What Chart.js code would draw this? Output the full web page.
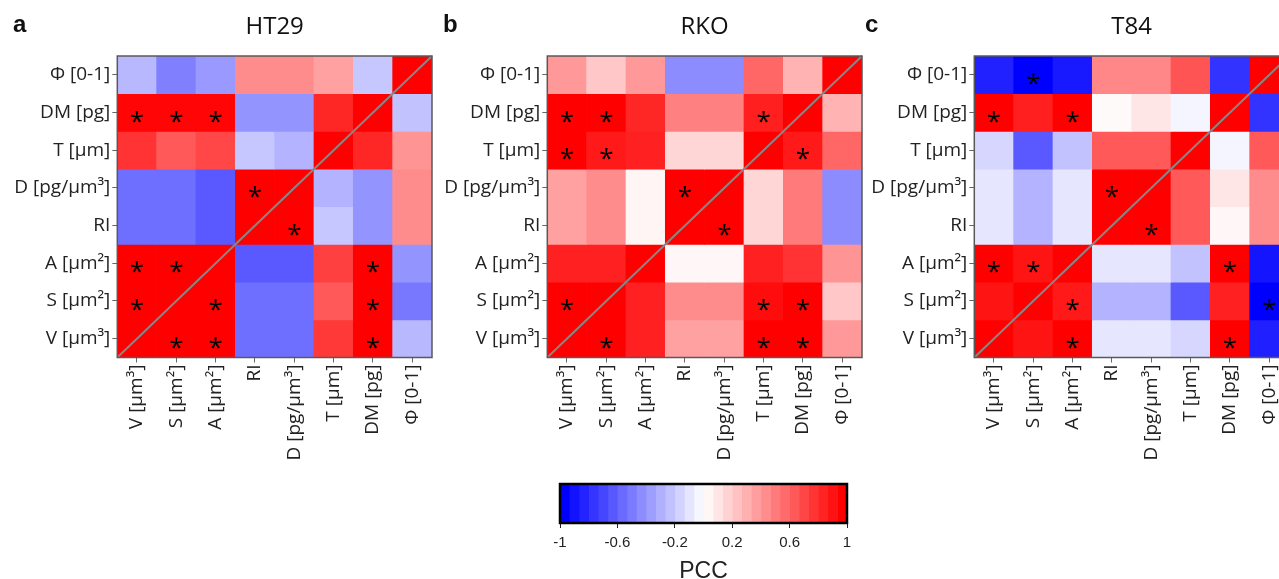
<!DOCTYPE html>
<html lang="en">
<head>
<meta charset="UTF-8">
<title>PCC correlation matrices: HT29, RKO, T84</title>
<script src="https://cdn.jsdelivr.net/npm/chart.js"></script>
<style>
  body { margin: 0; background: #fff; width: 1279px; height: 579px; overflow: hidden; position: relative; }
  canvas { position: absolute; }
</style>
</head>
<body>
<canvas id="chartA" width="440" height="480" style="left:0;top:0"></canvas>
<canvas id="chartB" width="440" height="480" style="left:430px;top:0"></canvas>
<canvas id="chartC" width="440" height="480" style="left:860px;top:0"></canvas>
<canvas id="colorbar" width="350" height="115" style="left:530px;top:470px"></canvas>

<script>
// columns left to right, rows top to bottom
const colLabels = ['V [µm³]', 'S [µm²]', 'A [µm²]', 'RI', 'D [pg/µm³]', 'T [µm]', 'DM [pg]', 'Φ [0-1]'];
const rowLabels = ['Φ [0-1]', 'DM [pg]', 'T [µm]', 'D [pg/µm³]', 'RI', 'A [µm²]', 'S [µm²]', 'V [µm³]'];

const ht29 = [
  [-0.28, -0.5, -0.4, 0.45, 0.45, 0.37, -0.22, 1],
  [0.98, 0.98, 0.98, -0.42, -0.42, 0.85, 1, -0.24],
  [0.8, 0.65, 0.72, -0.22, -0.3, 1, 0.85, 0.42],
  [-0.57, -0.57, -0.65, 1, 1, -0.3, -0.42, 0.45],
  [-0.57, -0.57, -0.65, 1, 1, -0.22, -0.42, 0.45],
  [1, 1, 1, -0.65, -0.65, 0.75, 1, -0.42],
  [1, 1, 1, -0.57, -0.57, 0.65, 1, -0.53],
  [1, 1, 1, -0.57, -0.57, 0.78, 1, -0.28]
];
const ht29Stars = [
  [0, 0, 0, 0, 0, 0, 0, 0],
  [1, 1, 1, 0, 0, 0, 0, 0],
  [0, 0, 0, 0, 0, 0, 0, 0],
  [0, 0, 0, 1, 0, 0, 0, 0],
  [0, 0, 0, 0, 1, 0, 0, 0],
  [1, 1, 0, 0, 0, 0, 1, 0],
  [1, 0, 1, 0, 0, 0, 1, 0],
  [0, 1, 1, 0, 0, 0, 1, 0]
];

const rko = [
  [0.4, 0.22, 0.4, -0.45, -0.45, 0.6, 0.3, 1],
  [1, 1, 0.85, 0.5, 0.5, 0.88, 1, 0.3],
  [1, 0.9, 0.87, 0.16, 0.16, 1, 0.9, 0.6],
  [0.37, 0.45, 0.04, 1, 1, 0.16, 0.52, -0.45],
  [0.37, 0.45, 0.04, 1, 1, 0.16, 0.52, -0.45],
  [0.87, 0.87, 1, 0.03, 0.03, 0.87, 0.8, 0.42],
  [1, 1, 0.87, 0.45, 0.45, 0.95, 1, 0.22],
  [1, 1, 0.87, 0.37, 0.37, 1, 1, 0.4]
];
const rkoStars = [
  [0, 0, 0, 0, 0, 0, 0, 0],
  [1, 1, 0, 0, 0, 1, 0, 0],
  [1, 1, 0, 0, 0, 0, 1, 0],
  [0, 0, 0, 1, 0, 0, 0, 0],
  [0, 0, 0, 0, 1, 0, 0, 0],
  [0, 0, 0, 0, 0, 0, 0, 0],
  [1, 0, 0, 0, 0, 1, 1, 0],
  [0, 1, 0, 0, 0, 1, 1, 0]
];

const t84 = [
  [-0.87, -1, -0.9, 0.47, 0.47, 0.67, -0.8, 1],
  [1, 0.88, 1, 0.02, 0.1, -0.04, 1, -0.8],
  [-0.16, -0.65, -0.24, 0.65, 0.65, 1, -0.04, 0.65],
  [-0.1, -0.3, -0.1, 1, 1, 0.65, 0.1, 0.45],
  [-0.1, -0.3, -0.1, 1, 1, 0.65, 0.03, 0.45],
  [1, 0.92, 1, -0.1, -0.1, -0.24, 1, -0.92],
  [0.92, 1, 0.9, -0.3, -0.3, -0.65, 0.87, -1],
  [1, 0.92, 1, -0.1, -0.1, -0.16, 1, -0.88]
];
const t84Stars = [
  [0, 1, 0, 0, 0, 0, 0, 0],
  [1, 0, 1, 0, 0, 0, 0, 0],
  [0, 0, 0, 0, 0, 0, 0, 0],
  [0, 0, 0, 1, 0, 0, 0, 0],
  [0, 0, 0, 0, 1, 0, 0, 0],
  [1, 1, 0, 0, 0, 0, 1, 0],
  [0, 0, 1, 0, 0, 0, 0, 1],
  [0, 0, 1, 0, 0, 0, 1, 0]
];

const cbTicks = [-1, -0.6, -0.2, 0.2, 0.6, 1];
const cbSteps = 30;

// blue-white-red
function bwr(v) {
  const t = Math.max(-1, Math.min(1, v));
  if (t >= 0) {
    const c = Math.round(255 * (1 - t));
    return `rgb(255,${c},${c})`;
  }
  const c = Math.round(255 * (1 + t));
  return `rgb(${c},${c},255)`;
}

const labelFont = '"Open Sans", sans-serif';

const panelDecor = {
  id: 'panelDecor',
  afterDatasetsDraw(chart, args, opts) {
    const { ctx, chartArea: a, scales: { x, y } } = chart;
    ctx.save();
    // diagonal
    ctx.strokeStyle = '#878787';
    ctx.lineWidth = 2;
    ctx.beginPath();
    ctx.moveTo(a.left, y.getPixelForValue(0));
    ctx.lineTo(a.right, y.getPixelForValue(8));
    ctx.stroke();

    // significance stars
    ctx.fillStyle = '#000';
    ctx.font = '26px ' + labelFont;
    ctx.textAlign = 'center';
    ctx.textBaseline = 'alphabetic';
    const m = ctx.measureText('*');
    const mid = (m.actualBoundingBoxAscent - m.actualBoundingBoxDescent) / 2;
    opts.stars.forEach((row, i) => row.forEach((s, j) => {
      if (!s) return;
      ctx.fillText('*', x.getPixelForValue(j), y.getPixelForValue(7.5 - i) + mid + 4);
    }));

    // frame
    ctx.strokeStyle = '#595959';
    ctx.lineWidth = 1.5;
    ctx.strokeRect(a.left, a.top, a.right - a.left, a.bottom - a.top);

    // title and panel letter
    ctx.fillStyle = '#111';
    ctx.textBaseline = 'middle';
    ctx.font = '24px ' + labelFont;
    ctx.fillText(opts.title, (a.left + a.right) / 2, 27);
    ctx.textAlign = 'left';
    ctx.font = 'bold 24px "Liberation Sans", Arial, sans-serif';
    ctx.fillText(opts.letter, opts.letterX, 25);
    ctx.restore();
  }
};

function makePanel(id, matrix, stars, title, letter, letterX, yWidth, padRight) {
  const datasets = matrix.map((row, i) => ({
    data: row.map(() => [7 - i, 8 - i]),
    backgroundColor: row.map(bwr),
    borderWidth: 0,
    grouped: false,
    barPercentage: 1,
    categoryPercentage: 1
  }));
  return new Chart(document.getElementById(id), {
    type: 'bar',
    data: { labels: colLabels, datasets },
    plugins: [panelDecor],
    options: {
      responsive: false,
      animation: false,
      layout: { padding: { top: 56, right: padRight, left: 0, bottom: 0 } },
      plugins: {
        legend: { display: false },
        tooltip: { enabled: false },
        panelDecor: { stars, title, letter, letterX }
      },
      scales: {
        x: {
          grid: { drawOnChartArea: false, offset: false, color: '#666', tickLength: 5 },
          border: { display: false },
          ticks: {
            color: '#222', autoSkip: false, minRotation: 90, maxRotation: 90, padding: 2,
            font: { family: labelFont, size: 19 }
          },
          afterFit: s => { s.height = 122.5; }
        },
        y: {
          min: 0, max: 8,
          grid: { drawOnChartArea: false, color: '#666', tickLength: 5 },
          border: { display: false },
          afterBuildTicks: s => { s.ticks = rowLabels.map((_, i) => ({ value: 7.5 - i })); },
          ticks: {
            color: '#222', autoSkip: false, padding: 2,
            font: { family: labelFont, size: 19 },
            callback: v => rowLabels[Math.round(7.5 - v)]
          },
          afterFit: s => { s.width = yWidth; }
        }
      }
    }
  });
}

makePanel('chartA', ht29, ht29Stars, 'HT29', 'a', 13, 117.3, 8);
makePanel('chartB', rko, rkoStars, 'RKO', 'b', 13, 117.3, 8);
makePanel('chartC', t84, t84Stars, 'T84', 'c', 5, 114.3, 11);

// colour bar
const cbDatasets = [];
for (let k = 0; k < cbSteps; k++) {
  const lo = -1 + 2 * k / cbSteps, hi = -1 + 2 * (k + 1) / cbSteps;
  cbDatasets.push({
    data: [[lo, hi]],
    backgroundColor: bwr(-1 + 2 * k / (cbSteps - 1)),
    borderWidth: 0, grouped: false, barPercentage: 1, categoryPercentage: 1
  });
}
const cbFrame = {
  id: 'cbFrame',
  afterDatasetsDraw(chart) {
    const { ctx, chartArea: a } = chart;
    ctx.save();
    ctx.strokeStyle = '#000';
    ctx.lineWidth = 2.5;
    ctx.strokeRect(a.left, a.top, a.right - a.left, a.bottom - a.top);
    ctx.restore();
  }
};
new Chart(document.getElementById('colorbar'), {
  type: 'bar',
  data: { labels: ['PCC'], datasets: cbDatasets },
  plugins: [cbFrame],
  options: {
    indexAxis: 'y',
    responsive: false,
    animation: false,
    layout: { padding: { top: 14, left: 30, right: 33, bottom: 0 } },
    plugins: { legend: { display: false }, tooltip: { enabled: false } },
    scales: {
      y: { display: false },
      x: {
        min: -1, max: 1,
        grid: { drawOnChartArea: false, color: '#222', tickLength: 5 },
        border: { display: false },
        afterBuildTicks: s => { s.ticks = cbTicks.map(v => ({ value: v })); },
        ticks: {
          color: '#222', padding: 6,
          font: { family: '"Liberation Sans", Arial, sans-serif', size: 15 },
          callback: v => String(v)
        },
        title: {
          display: true, text: 'PCC', color: '#222', padding: { top: 2, bottom: 0 },
          font: { family: '"Liberation Sans", Arial, sans-serif', size: 23 }
        },
        afterFit: s => { s.height = 62; }
      }
    }
  }
});
</script>
</body>
</html>
